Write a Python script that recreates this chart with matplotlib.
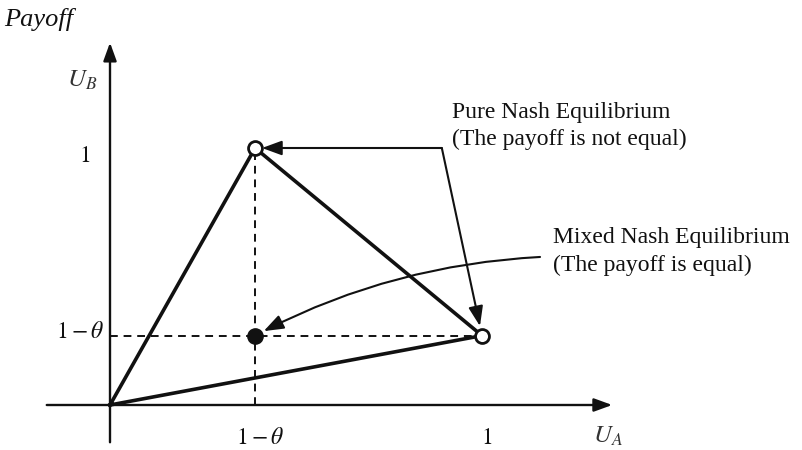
import matplotlib
matplotlib.use("Agg")
import matplotlib.pyplot as plt
from matplotlib.patches import ArrowStyle

plt.rcParams["font.family"] = ["Liberation Serif", "DejaVu Serif"]
plt.rcParams["mathtext.fontset"] = "stix"

# Payoff vertices (U_A, U_B): origin, pure NE (1-θ, 1), pure NE (1, 1-θ)
ua_vertices = [0.0, 0.39, 1.0]
ub_vertices = [0.0, 1.0, 0.27]
# Mixed equilibrium payoff (1-θ, 1-θ)
mixed_ua = [0.39]
mixed_ub = [0.27]

xtick_pos = [0.39, 1.0]
xtick_labels = [r"$1-\theta$", r"$1$"]
ytick_pos = [0.27, 1.0]
ytick_labels = [r"$1-\theta$", r"$1$"]

W, H = 802, 450
fig = plt.figure(figsize=(W / 100, H / 100), dpi=100)
ax = fig.add_axes([0, 0, 1, 1])
ax.axis("off")

# scale: origin at pixel (110, 405); one unit = 372 px horizontally, 257 px vertically
ox, oy, sx, sy = 110, 405, 372, 257
ax.set_xlim(-ox / sx, (W - ox) / sx)
ax.set_ylim(-(H - oy) / sy, oy / sy)

ink = "#111111"


def label(px, py, s, **kw):
    """Place text at a pixel position measured from the top-left corner."""
    kw.setdefault("color", ink)
    return ax.text(px / W, 1 - py / H, s, transform=ax.transAxes, **kw)


# coordinate axes with arrowheads
axis_head = ArrowStyle("-|>", head_length=0.55, head_width=0.2)
ax.annotate("", xy=(1.35, 0), xytext=(-0.17, 0),
            arrowprops=dict(arrowstyle=axis_head, color=ink, lw=1.7,
                            mutation_scale=20, shrinkA=0, shrinkB=0))
ax.annotate("", xy=(0, 1.41), xytext=(0, -0.145),
            arrowprops=dict(arrowstyle=axis_head, color=ink, lw=1.7,
                            mutation_scale=20, shrinkA=0, shrinkB=0))

# dashed guides to the mixed payoff
ax.plot([mixed_ua[0], mixed_ua[0]], [0, ub_vertices[1]], color=ink, lw=1.4,
        ls=(0, (4, 3)))
ax.plot([0, ua_vertices[2]], [mixed_ub[0], mixed_ub[0]], color=ink, lw=1.4,
        ls=(0, (4, 3)))

# payoff triangle
ax.plot(ua_vertices + [ua_vertices[0]], ub_vertices + [ub_vertices[0]],
        color=ink, lw=2.6, solid_joinstyle="miter")

# equilibria markers
ax.plot(ua_vertices[1:], ub_vertices[1:], "o", ms=10, mfc="white", mec=ink,
        mew=2.0, zorder=5)
ax.plot(mixed_ua, mixed_ub, "o", ms=11, mfc=ink, mec=ink, zorder=5)

# tick labels
fs = 17
label(260, 438, xtick_labels[0], fontsize=fs, ha="center", va="center")
label(487, 438, xtick_labels[1], fontsize=fs, ha="center", va="center")
label(104, 333, ytick_labels[0], fontsize=fs, ha="right", va="center")
label(85, 156, ytick_labels[1], fontsize=fs, ha="center", va="center")

# axis titles
label(82, 80, r"$U_B$", fontsize=18, ha="center", va="center", color="#333333")
label(608, 436, r"$U_A$", fontsize=18, ha="center", va="center", color="#333333")
label(4, 26, "Payoff", fontsize=19, style="italic", ha="left", va="baseline")

# annotations
tfs = 17
label(452, 118, "Pure Nash Equilibrium", fontsize=tfs, ha="left", va="baseline")
label(452, 145, "(The payoff is not equal)", fontsize=tfs, ha="left", va="baseline")
label(553, 243, "Mixed Nash Equilibrium", fontsize=tfs, ha="left", va="baseline")
label(553, 271, "(The payoff is equal)", fontsize=tfs, ha="left", va="baseline")

head = ArrowStyle("-|>", head_length=0.6, head_width=0.22)
corner = (0.892, ub_vertices[1])
ax.annotate("", xy=(ua_vertices[1], ub_vertices[1]), xytext=corner,
            arrowprops=dict(arrowstyle=head, color=ink, lw=1.5,
                            mutation_scale=20, shrinkA=0, shrinkB=5))
ax.annotate("", xy=(ua_vertices[2], ub_vertices[2]), xytext=corner,
            arrowprops=dict(arrowstyle=head, color=ink, lw=1.5,
                            mutation_scale=20, shrinkA=0, shrinkB=7))
ax.annotate("", xy=(mixed_ua[0], mixed_ub[0]), xytext=(1.156, 0.576),
            arrowprops=dict(arrowstyle=head, color=ink, lw=1.5,
                            mutation_scale=20, shrinkA=0, shrinkB=7,
                            connectionstyle="arc3,rad=0.11"))

fig.savefig("out.png", dpi=100, facecolor="white")
